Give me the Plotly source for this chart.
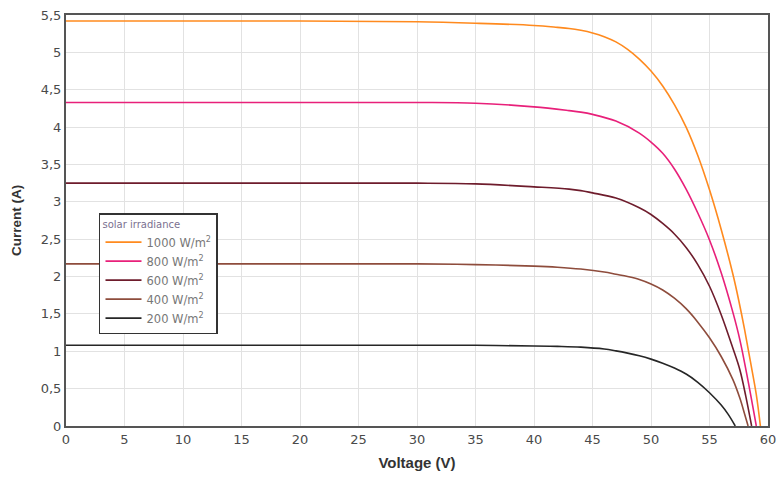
import plotly.graph_objects as go

# Voltage (V) / Current (A)
v1000 = [0, 20, 30, 35, 40, 42, 43, 44, 45, 46, 47, 48, 49, 50, 51, 52, 53, 54, 55, 56, 57, 57.5, 58, 58.5, 59, 59.35]
i1000 = [5.42, 5.42, 5.41, 5.39, 5.36, 5.335, 5.32, 5.295, 5.26, 5.21, 5.14, 5.04, 4.91, 4.75, 4.55, 4.30, 4.00,
         3.62, 3.16, 2.63, 2.03, 1.68, 1.29, 0.86, 0.42, 0.0]

v800 = [0, 20, 30, 35, 40, 43, 44, 45, 47, 49, 50, 51, 52, 53, 54, 55, 56, 57, 57.6, 58.3, 59.0]
i800 = [4.33, 4.33, 4.33, 4.32, 4.27, 4.22, 4.20, 4.17, 4.08, 3.92, 3.80, 3.65, 3.44, 3.17, 2.85, 2.49, 2.05,
        1.52, 1.15, 0.60, 0.0]

v600 = [0, 20, 30, 35, 40, 43, 44, 45, 47, 49, 50, 51, 52, 53, 54, 55, 56, 57, 57.6, 58.1, 58.6]
i600 = [3.25, 3.25, 3.25, 3.24, 3.20, 3.17, 3.15, 3.12, 3.05, 2.92, 2.83, 2.71, 2.57, 2.39, 2.16, 1.87, 1.49,
        1.04, 0.75, 0.40, 0.0]

v400 = [0, 20, 30, 35, 40, 42, 44, 46, 47, 48, 49, 50, 51, 52, 53, 54, 55, 56, 57, 57.6, 58.0, 58.3]
i400 = [2.17, 2.17, 2.17, 2.16, 2.14, 2.125, 2.10, 2.06, 2.03, 2.00, 1.96, 1.90, 1.82, 1.71, 1.57, 1.39, 1.18,
        0.93, 0.62, 0.37, 0.16, 0.0]

v200 = [0, 20, 30, 35, 40, 42, 44, 46, 47, 48, 49, 50, 51, 52, 53, 54, 55, 56, 56.6, 57.2]
i200 = [1.08, 1.08, 1.08, 1.08, 1.07, 1.065, 1.055, 1.03, 1.005, 0.975, 0.94, 0.895, 0.84, 0.775, 0.695, 0.585,
        0.445, 0.28, 0.155, 0.0]

names = ["1000 W/m<sup>2</sup>", "800 W/m<sup>2</sup>", "600 W/m<sup>2</sup>",
         "400 W/m<sup>2</sup>", "200 W/m<sup>2</sup>"]
colors = ["#ff8a1e", "#e8207a", "#6e1c2c", "#8e4c3c", "#262626"]
series = [(v1000, i1000), (v800, i800), (v600, i600), (v400, i400), (v200, i200)]

x_ticks = list(range(0, 61, 5))
y_ticks = [0, 0.5, 1, 1.5, 2, 2.5, 3, 3.5, 4, 4.5, 5, 5.5]

fig = go.Figure()
for (vx, iy), nm, c in zip(series, names, colors):
    fig.add_trace(go.Scatter(x=vx, y=iy, mode="lines", name=nm,
                             line=dict(color=c, width=1.6, shape="spline", smoothing=1.0)))

tick_font = dict(family="DejaVu Sans, Verdana, sans-serif", size=13, color="#4a4a4a")

fig.update_layout(
    width=778, height=478,
    margin=dict(l=66, r=10, t=15, b=52),
    paper_bgcolor="white", plot_bgcolor="white",
    separators=",.",
    font=tick_font,
    xaxis=dict(range=[0, 60], tickvals=x_ticks, showgrid=True, gridcolor="#e2e2e2", gridwidth=1,
               showline=True, linecolor="#555555", linewidth=2, mirror=True, zeroline=False,
               ticks="", tickfont=tick_font, automargin=False,
               title=dict(text="<b>Voltage (V)</b>",
                          font=dict(family="Liberation Sans, Arial, sans-serif", size=15, color="#333333"),
                          standoff=12)),
    yaxis=dict(range=[0, 5.5], tickvals=y_ticks, showgrid=True, gridcolor="#e2e2e2", gridwidth=1,
               showline=True, linecolor="#555555", linewidth=2, mirror=True, zeroline=False,
               ticks="", tickfont=tick_font, automargin=False,
               title=dict(text="<b>Current (A)</b>",
                          font=dict(family="Liberation Sans, Arial, sans-serif", size=13.5, color="#333333"),
                          standoff=16)),
    legend=dict(x=0.047, y=0.518, xanchor="left", yanchor="top",
                bgcolor="white", bordercolor="#333333", borderwidth=1.5,
                font=dict(family="DejaVu Sans, Verdana, sans-serif", size=11.5, color="#777777"),
                title=dict(text="solar irradiance",
                           font=dict(family="DejaVu Sans, Verdana, sans-serif", size=10, color="#7a7090")),
                tracegroupgap=0, itemwidth=36),
)

fig.write_html("out.html")
